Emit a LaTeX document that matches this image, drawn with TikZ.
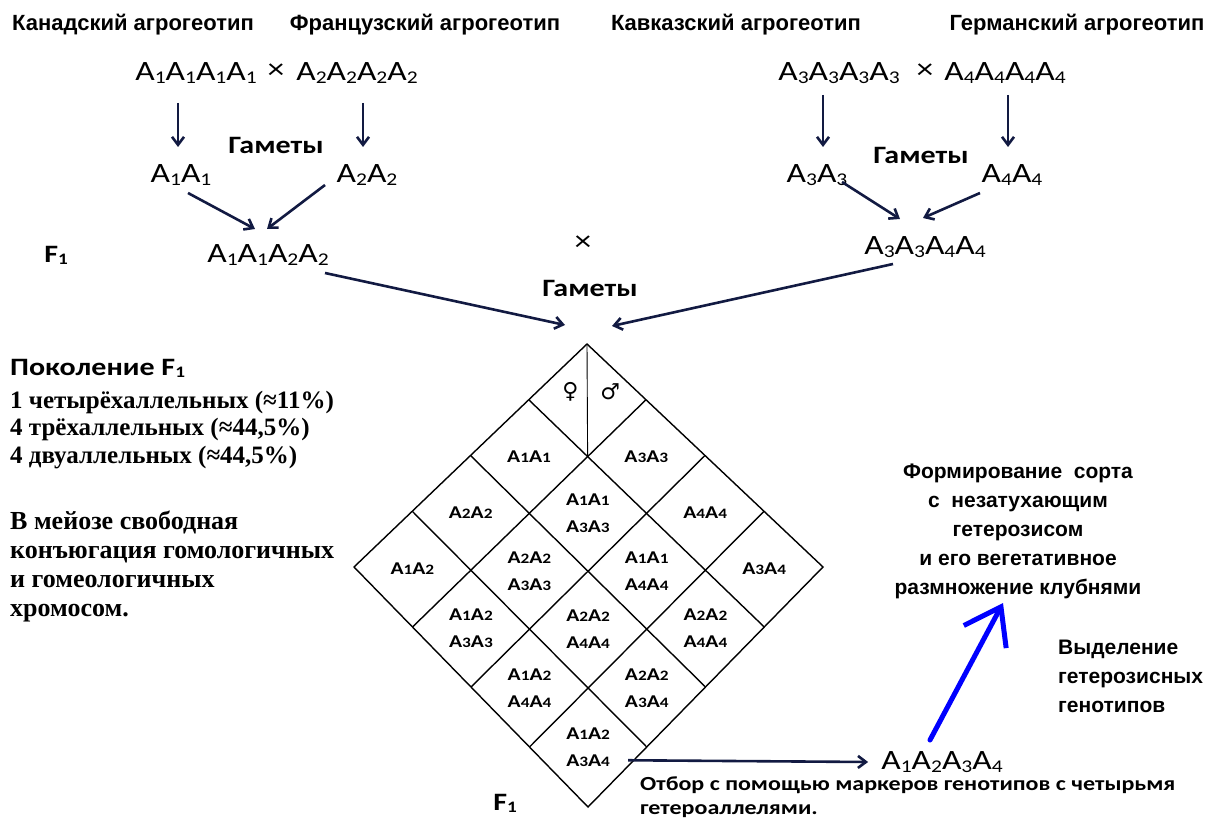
\documentclass[tikz,border=0pt]{standalone}
\usepackage{fontspec}
\usepackage{graphicx}
\setmainfont{Liberation Serif}
\newfontfamily\arial{Liberation Sans}
\newfontfamily\calib[FakeStretch=1.2]{Carlito}
\newfontfamily\symf{DejaVu Sans}
\usetikzlibrary{arrows.meta,calc}
\definecolor{navyc}{RGB}{18,26,66}
\newcommand\sbs[1]{\raisebox{-0.08em}{\scalebox{0.64}{#1}}}
\newcommand\gA[1]{A\sbs{#1}}
\newcommand\cA[1]{A\scalebox{0.8}{#1}}
\tikzset{
  hdr/.style={font=\arial\bfseries\fontsize{22}{25}\selectfont, inner sep=0pt},
  geno/.style={font=\calib\fontsize{28}{32}\selectfont, inner sep=0pt},
  gam/.style={font=\calib\bfseries\fontsize{25}{30}\selectfont, inner sep=0pt},
  celltxt/.style={font=\calib\bfseries\fontsize{18}{27}\selectfont, align=center, inner sep=0pt},
  arr/.style={draw=navyc, line width=2.6pt, -{Straight Barb[length=8pt,width=12pt]}},
  bluearr/.style={draw=blue, line width=5pt, line cap=round, -{Straight Barb[length=34pt,width=48pt]}},
  gline/.style={line width=1.4pt, line join=miter},
  serifb/.style={font=\bfseries\fontsize{25}{27.5}\selectfont, align=left, inner sep=0pt},
  serifc/.style={font=\bfseries\fontsize{26}{29}\selectfont, align=left, inner sep=0pt},
  rtxt/.style={font=\arial\bfseries\fontsize{21}{29}\selectfont, inner sep=0pt},
  otb/.style={font=\calib\bfseries\fontsize{20}{24}\selectfont, align=left, inner sep=0pt},
  symb/.style={font=\symf\fontsize{22}{24}\selectfont, inner sep=0pt}
}
\begin{document}
\begin{tikzpicture}[x=1pt,y=-1pt]
\useasboundingbox (0,0) rectangle (1211,821);
\fill[white] (0,0) rectangle (1211,821);

% headers
\node[hdr] (h1) at (133,25) {Канадский агрогеотип};
\node[hdr] (h2) at (425,25) {Французский агрогеотип};
\node[hdr] (h3) at (736,25) {Кавказский агрогеотип};
\node[hdr] (h4) at (1077,25) {Германский агрогеотип};

% parents
\node[geno] (p1) at (196,73) {\gA1\gA1\gA1\gA1};
\node[geno] (x1) at (276,71) {×};
\node[geno] (p2) at (357,73) {\gA2\gA2\gA2\gA2};
\node[geno] (p3) at (839,73) {\gA3\gA3\gA3\gA3};
\node[geno] (x2) at (925,71) {×};
\node[geno] (p4) at (1005,73) {\gA4\gA4\gA4\gA4};

\node[gam] (ga1) at (276,145) {Гаметы};
\node[gam] (ga2) at (921,155) {Гаметы};
\node[gam] (ga3) at (590,288) {Гаметы};

\node[geno] (g1) at (181,175) {\gA1\gA1};
\node[geno] (g2) at (367,175) {\gA2\gA2};
\node[geno] (g3) at (817,175) {\gA3\gA3};
\node[geno] (g4) at (1012,175) {\gA4\gA4};

\node[geno] (f1l) at (268,255) {\gA1\gA1\gA2\gA2};
\node[geno] (f1r) at (925,247) {\gA3\gA3\gA4\gA4};
\node[geno] (x3) at (583,243) {×};
\node[gam] (fl) at (56,255) {F\sbs1};
\node[gam] (fb) at (505,803) {F\sbs1};

% left texts
\node[gam, anchor=west] (pok) at (10,368) {Поколение F\sbs1};
\node[serifb, anchor=west] (stat) at (10,430) {1 четырёхаллельных (≈11\%)\\4 трёхаллельных (≈44,5\%)\\4 двуаллельных (≈44,5\%)};
\node[serifc, anchor=west] (meio) at (10,566) {В мейозе свободная\\конъюгация гомологичных\\и гомеологичных\\хромосом.};

% right texts
\node[rtxt, align=center] (rb) at (1018,531) {Формирование\ \ сорта\\с\ \ незатухающим\\гетерозисом\\и его вегетативное\\размножение клубнями};
\node[rtxt, align=left, anchor=west] (vyd) at (1058,676) {Выделение\\гетерозисных\\генотипов};
\node[geno] (n) at (942,762) {\gA1\gA2\gA3\gA4};
\node[otb, anchor=west] (otbor) at (640,797) {Отбор с помощью маркеров генотипов с четырьмя\\гетероаллелями.};

% diamond
\coordinate (DT) at (587,344);
\coordinate (DL) at (354,567);
\coordinate (DR) at (823,567);
\coordinate (DB) at (588,807);
\draw[gline] (DT) -- (DR) -- (DB) -- (DL) -- cycle;
\foreach \k in {1,2,3} {
  \draw[gline] ($(DT)!{\k/4}!(DL)$) -- ($(DR)!{\k/4}!(DB)$);
  \draw[gline] ($(DT)!{\k/4}!(DR)$) -- ($(DL)!{\k/4}!(DB)$);
}
\coordinate (k1) at ($(DT)!0.25!(DL)$);
\coordinate (k2) at ($(DR)!0.25!(DB)$);
\coordinate (mid11) at ($(k1)!0.25!(k2)$);
\draw[line width=0.9pt] (DT) -- (mid11);

\foreach \i in {0,...,3} {
  \coordinate (eL\i) at ($(DT)!{(\i+0.5)/4}!(DL)$);
  \coordinate (eR\i) at ($(DR)!{(\i+0.5)/4}!(DB)$);
}
\coordinate (c00) at ($(eL0)!0.125!(eR0)$);
\node[symb] (fem) at ([xshift=-17pt,yshift=8pt]c00) {♀};
\node[symb] (mal) at ([xshift=23pt,yshift=8pt]c00) {♂};

\foreach \i/\j/\txt in {
  1/0/{\cA1\cA1}, 0/1/{\cA3\cA3},
  2/0/{\cA2\cA2}, 1/1/{\cA1\cA1\\\cA3\cA3}, 0/2/{\cA4\cA4},
  3/0/{\cA1\cA2}, 2/1/{\cA2\cA2\\\cA3\cA3}, 1/2/{\cA1\cA1\\\cA4\cA4}, 0/3/{\cA3\cA4},
  3/1/{\cA1\cA2\\\cA3\cA3}, 2/2/{\cA2\cA2\\\cA4\cA4}, 1/3/{\cA2\cA2\\\cA4\cA4},
  3/2/{\cA1\cA2\\\cA4\cA4}, 2/3/{\cA2\cA2\\\cA3\cA4},
  3/3/{\cA1\cA2\\\cA3\cA4}} {
  \node[celltxt] (c\i\j) at ($(eL\i)!{(\j+0.5)/4}!(eR\i)$) {\txt};
}

% arrows
\draw[arr] ([xshift=-3pt,yshift=72pt]g1.center) -- ([xshift=-3pt,yshift=28pt]g1.center);
\draw[arr] ([xshift=-4pt,yshift=72pt]g2.center) -- ([xshift=-4pt,yshift=28pt]g2.center);
\draw[arr] ([xshift=6pt,yshift=80pt]g3.center) -- ([xshift=6pt,yshift=28pt]g3.center);
\draw[arr] ([xshift=-4pt,yshift=80pt]g4.center) -- ([xshift=-4pt,yshift=28pt]g4.center);

\draw[arr] ([xshift=7pt,yshift=-18pt]g1.center) -- ([xshift=-13pt,yshift=26pt]f1l.center);
\draw[arr] ([xshift=-42pt,yshift=-10pt]g2.center) -- ([xshift=-1pt,yshift=26pt]f1l.center);
\draw[arr] ([xshift=25pt,yshift=-7pt]g3.center) -- ([xshift=-25pt,yshift=28pt]f1r.center);
\draw[arr] ([xshift=-32pt,yshift=-18pt]g4.center) -- ([xshift=-2pt,yshift=29pt]f1r.center);

\draw[arr] ([xshift=57pt,yshift=-18pt]f1l.center) -- ([xshift=-22pt,yshift=19pt]DT);
\draw[arr] ([xshift=-32pt,yshift=-17pt]f1r.center) -- ([xshift=25pt,yshift=18pt]DT);

\draw[arr] ([xshift=40pt,yshift=-13pt]c33.center) -- ([xshift=-13pt]n.west);
\draw[bluearr] ([xshift=-12pt,yshift=22pt]n.center) -- ([xshift=-15pt,yshift=-72pt]rb.center);
\end{tikzpicture}
\end{document}
